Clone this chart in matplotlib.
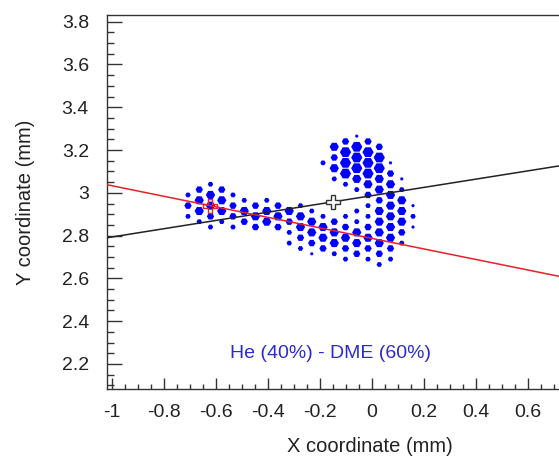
import numpy as np
import matplotlib
matplotlib.use("Agg")
import matplotlib.pyplot as plt
from matplotlib.ticker import MultipleLocator, FuncFormatter

plt.rcParams['font.family'] = ['Liberation Sans', 'DejaVu Sans']
plt.rcParams['axes.unicode_minus'] = False

# hexagonal readout: columns 43.3 um apart, 50 um pitch along a column,
# odd columns shifted down by half a pitch
COL_PITCH = 0.0433
ROW_PITCH = 0.05
X_REF = -0.0588
Y_REF = 3.265

# hit pixels per column: row indices (counted downwards) and charge level 1..5
hit_cols = [-15, -14, -13, -12, -11, -10, -9, -8, -7, -6, -5, -4, -3, -2,
            -1, 0, 1, 2, 3, 4, 5]
hit_rows = [
    [5, 6, 7],
    [5, 6, 7, 8],
    [4, 5, 6, 7, 8],
    [5, 6, 7, 8],
    [5, 6, 7, 8],
    [6, 7, 8],
    [6, 7, 8],
    [6, 7, 8],
    [6, 7, 8],
    [7, 8, 9, 10],
    [6, 7, 8, 9, 10],
    [7, 8, 9, 10, 11],
    [2, 7, 8, 9, 10],
    [1, 2, 3, 4, 8, 9, 10, 11],
    [0, 1, 2, 3, 4, 7, 8, 9, 10, 11],
    [0, 1, 2, 3, 4, 5, 7, 8, 9, 10, 11],
    [0, 1, 2, 3, 4, 5, 6, 7, 8, 9, 10, 11],
    [1, 2, 3, 4, 5, 6, 7, 8, 9, 10, 11, 12],
    [2, 3, 4, 5, 6, 7, 8, 9, 10, 11],
    [4, 5, 6, 7, 8, 9, 10],
    [6, 7, 8],
]
hit_charge = [
    [2, 3, 2],
    [3, 4, 4, 2],
    [2, 4, 4, 3, 2],
    [3, 4, 4, 2],
    [2, 3, 3, 2],
    [2, 4, 3],
    [3, 4, 3],
    [2, 4, 4],
    [3, 4, 3],
    [4, 3, 2, 2],
    [2, 4, 4, 3, 2],
    [2, 4, 4, 3, 1],
    [2, 2, 4, 4, 3],
    [4, 3, 4, 2, 3, 4, 4, 2],
    [3, 5, 5, 5, 2, 2, 3, 4, 3, 2],
    [1, 5, 5, 5, 4, 2, 2, 2, 4, 4, 3],
    [3, 5, 5, 5, 4, 3, 2, 2, 3, 4, 3, 2],
    [3, 5, 5, 4, 4, 3, 4, 4, 4, 4, 3, 2],
    [1, 3, 4, 4, 4, 4, 4, 4, 3, 2],
    [1, 2, 4, 4, 4, 3, 2],
    [1, 2, 1],
]

# reconstructed track: barycenter on the principal axis, impact point on the emission direction
bary_x, bary_y, axis_slope = -0.149, 2.958, 0.193
impact_x, impact_y, emission_slope = -0.623, 2.940, -0.246

x_ticks = [-1, -0.8, -0.6, -0.4, -0.2, 0, 0.2, 0.4, 0.6]
y_ticks = [2.2, 2.4, 2.6, 2.8, 3, 3.2, 3.4, 3.6, 3.8]

cols = np.concatenate([[c] * len(r) for c, r in zip(hit_cols, hit_rows)])
rows = np.concatenate(hit_rows)
charge = np.concatenate(hit_charge)
hx = X_REF + cols * COL_PITCH
hy = Y_REF - rows * ROW_PITCH - (cols % 2) * ROW_PITCH / 2
sizes = (1.1 + 1.4 * charge) ** 2

fig = plt.figure(figsize=(5.59, 4.59), dpi=100)
ax = fig.add_axes([0.1914, 0.1525, 0.939, 0.8148])

ax.scatter(hx, hy, s=sizes, marker='H', c='#0000ff', linewidths=0, zorder=2)

ax.axline((bary_x, bary_y), slope=axis_slope, color='#222222', lw=1.1, zorder=3)
ax.axline((impact_x, impact_y), slope=emission_slope, color='#e8202a', lw=1.1, zorder=3)
ax.plot(bary_x, bary_y, marker='P', ms=10, mfc='white', mec='#333333', mew=1.0, zorder=4)
ax.plot(impact_x, impact_y, marker='P', ms=10, mfc='none', mec='#e8202a', mew=1.0, zorder=4)

ax.text(-0.16, 2.25, 'He (40%) - DME (60%)', color='#2b2bd0', fontsize=14,
        ha='center', va='center')

ax.set_xlim(-1.02, 1.0)
ax.set_ylim(2.083, 3.831)
ax.set_xticks(x_ticks)
ax.set_yticks(y_ticks)
ax.xaxis.set_minor_locator(MultipleLocator(0.05))
ax.yaxis.set_minor_locator(MultipleLocator(0.05))
fmt = FuncFormatter(lambda v, p: '%g' % round(v, 2))
ax.xaxis.set_major_formatter(fmt)
ax.yaxis.set_major_formatter(fmt)
ax.tick_params(which='both', direction='in', colors='#333333', labelcolor='#222222',
               labelsize=14, top=False, right=False)
ax.tick_params(axis='y', which='major', length=11, width=1.0, pad=13)
ax.tick_params(axis='y', which='minor', length=5, width=1.0)
ax.tick_params(axis='x', which='major', length=8, width=1.0, pad=11)
ax.tick_params(axis='x', which='minor', length=3.5, width=1.0)
for s in ax.spines.values():
    s.set_color('#333333')
    s.set_linewidth(1.0)

ax.set_xlabel('X coordinate (mm)', fontsize=14.5, color='#222222', labelpad=11)
ax.set_ylabel('Y coordinate (mm)', fontsize=14.5, color='#222222', labelpad=19)

fig.savefig('out.png', dpi=100)
